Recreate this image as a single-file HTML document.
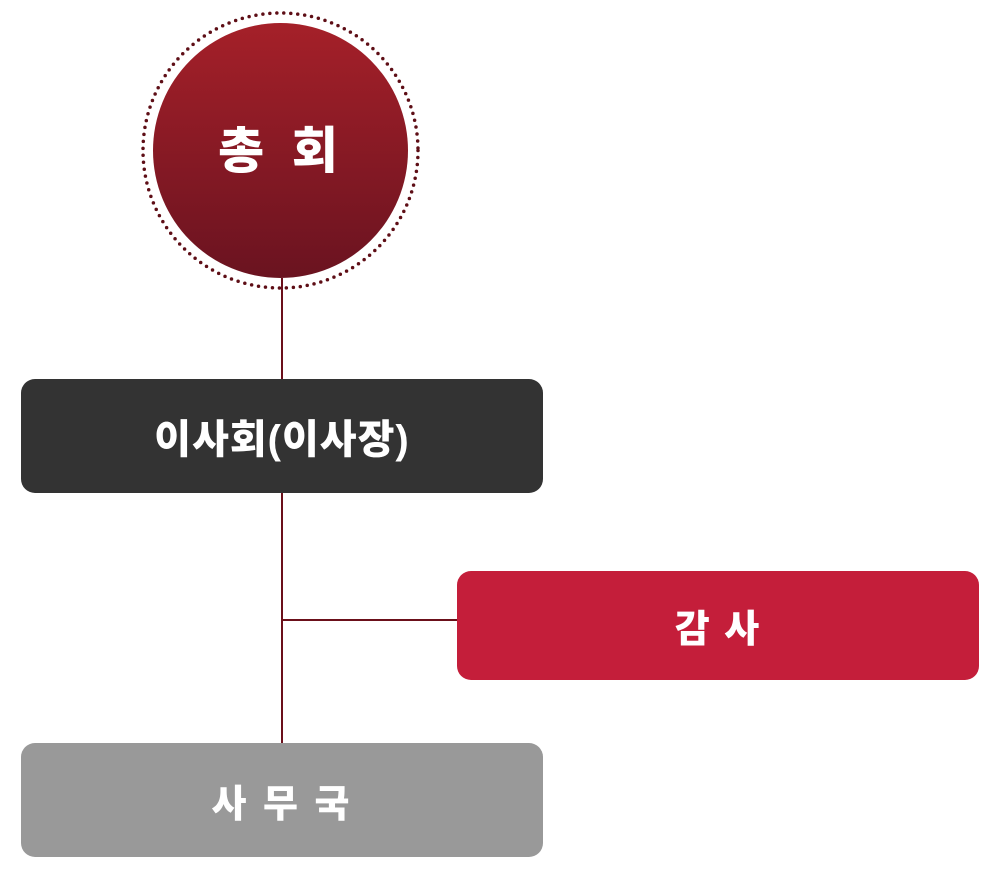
<!DOCTYPE html>
<html><head><meta charset="utf-8"><style>
html,body{margin:0;padding:0;width:996px;height:872px;background:#fff;overflow:hidden}
body{position:relative;font-family:"Liberation Sans","Noto Sans CJK KR",sans-serif;font-weight:900;color:#fff}
.box{position:absolute;border-radius:14px;display:flex;align-items:center;justify-content:center}
.line{position:absolute;background:#6b0f1a}
</style></head><body>
<svg width="996" height="872" style="position:absolute;left:0;top:0">
<defs><linearGradient id="g" x1="0" y1="0" x2="0" y2="1"><stop offset="0" stop-color="#a52029"/><stop offset="1" stop-color="#6a1320"/></linearGradient></defs>
<circle cx="280.5" cy="150.5" r="137.5" fill="none" stroke="#5e0e16" stroke-width="3.5" stroke-dasharray="0 7" stroke-linecap="round"/>
<circle cx="280.5" cy="150.5" r="127.5" fill="url(#g)"/>
<text x="278" y="168" text-anchor="middle" font-size="50" font-weight="900" fill="#fff" font-family="Liberation Sans, Noto Sans CJK KR, sans-serif" xml:space="preserve">총  회</text>
</svg>
<div class="line" style="left:281px;top:278px;width:2px;height:101px"></div>
<div class="line" style="left:281px;top:493px;width:2px;height:250px"></div>
<div class="line" style="left:282px;top:619px;width:175px;height:2px"></div>
<div class="box" style="left:21px;top:379px;width:522px;height:114px;background:#333;font-size:40px;letter-spacing:1px">이사회(이사장)</div>
<div class="box" style="left:457px;top:571px;width:522px;height:109px;background:#c41e3a;font-size:38px;letter-spacing:2px">감 사</div>
<div class="box" style="left:21px;top:743px;width:522px;height:114px;background:#999;font-size:38px;letter-spacing:3px">사 무 국</div>
</body></html>
